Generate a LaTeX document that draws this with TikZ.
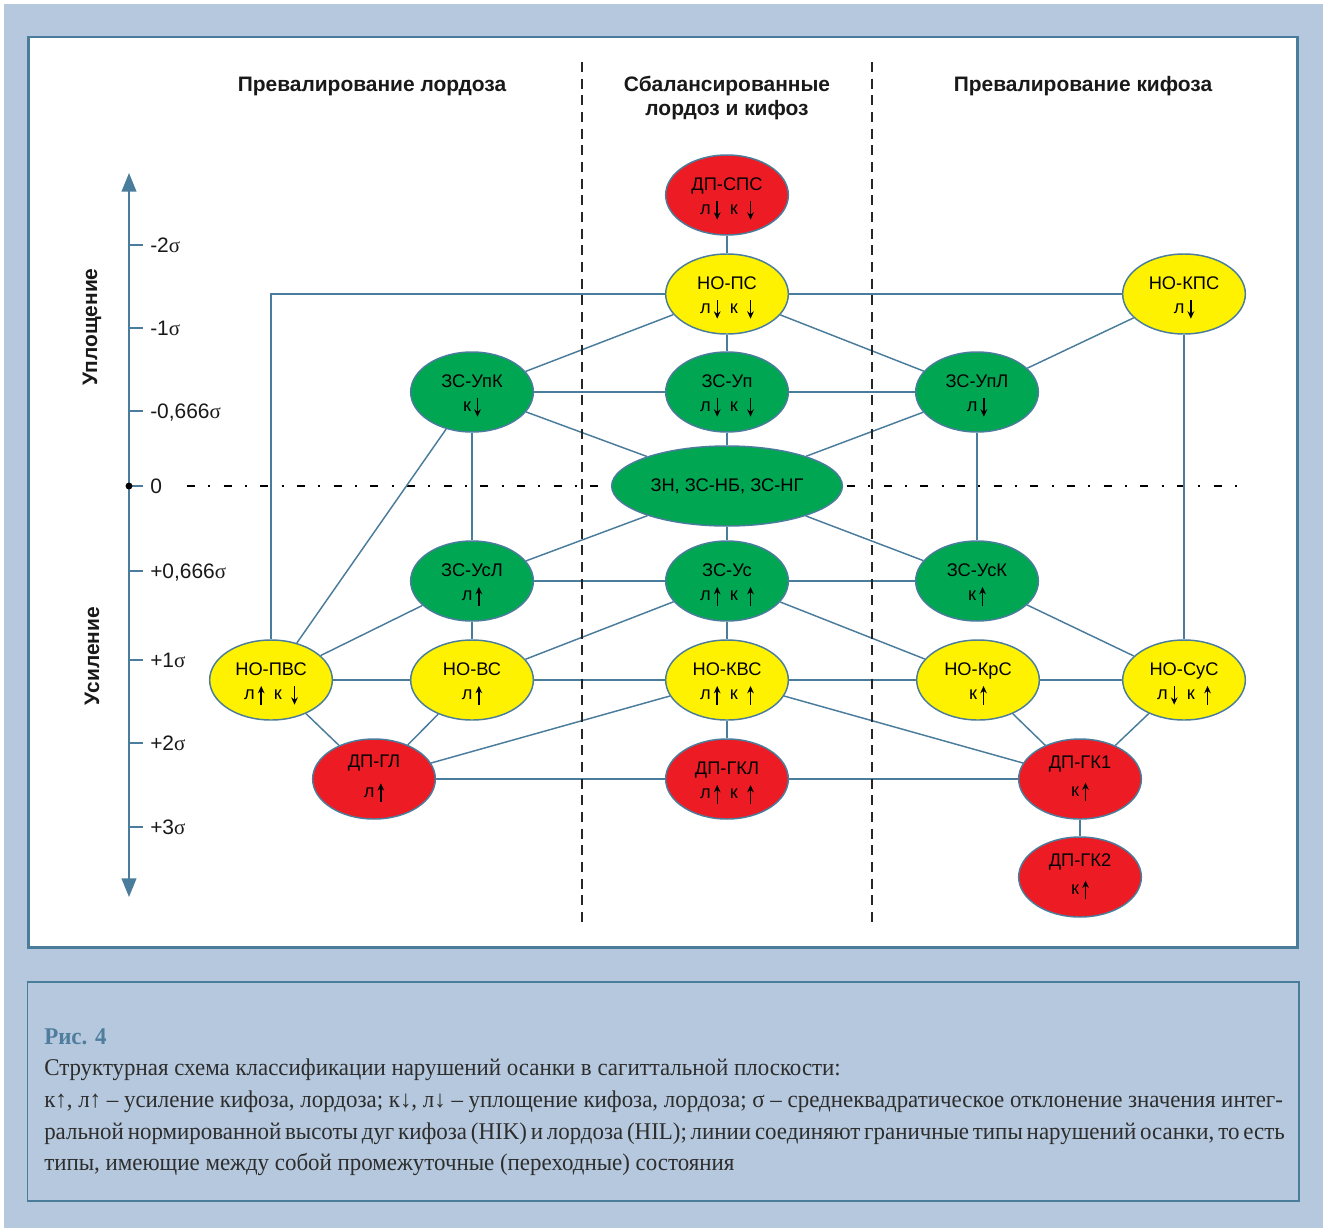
\documentclass[tikz,border=0pt]{standalone}
\usepackage{fontspec}
\setmainfont{Liberation Sans}
\newfontfamily\capfont[FakeStretch=0.955]{Liberation Serif}
\newfontfamily\sigfont{Liberation Serif}
\usetikzlibrary{arrows.meta,shapes.geometric}
\definecolor{bgblue}{RGB}{181,200,221}
\definecolor{steel}{RGB}{74,124,156}
\definecolor{nred}{RGB}{237,28,36}
\definecolor{nyel}{RGB}{255,242,0}
\definecolor{ngreen}{RGB}{0,166,81}
\definecolor{capblue}{RGB}{80,125,158}
\definecolor{captext}{RGB}{45,45,45}
\newcommand\upar{\tikz[baseline=0pt]\draw[draw=black,line width=1.05pt,-{Stealth[length=5.5pt,width=5pt]}](0pt,-3.5pt)--(0pt,10.5pt);}
\newcommand\dnar{\tikz[baseline=0pt]\draw[draw=black,line width=1.05pt,-{Stealth[length=5.5pt,width=5pt]}](0pt,10.5pt)--(0pt,-3.5pt);}
\newcommand\gp{\hspace{7pt}}
\newcommand\st{\rule{0pt}{16pt}}
\newcommand\sg{{\sigfont σ}}
\pgfdeclarelayer{bglayer}
\pgfdeclarelayer{edgelayer}
\pgfsetlayers{bglayer,edgelayer,main}
\tikzset{
  typ/.style={ellipse, draw=steel, line width=1.1pt, minimum width=92pt, minimum height=60pt,
    inner sep=0pt, align=center, font=\fontsize{13.7}{18}\selectfont, text=black},
  redn/.style={typ, fill=nred},
  yeln/.style={typ, fill=nyel},
  grnn/.style={typ, fill=ngreen},
  link/.style={draw=steel, line width=1.1pt},
  hdr/.style={align=center, font=\fontsize{15.7}{18}\selectfont\bfseries, text=black!90},
  ticklab/.style={anchor=base west, inner sep=0pt, font=\fontsize{15.7}{18}\selectfont, text=black!90},
  tickmark/.style={draw=steel, line width=1.1pt},
  axlab/.style={rotate=90, font=\fontsize{15.7}{18}\selectfont\bfseries, text=black!90},
  capline/.style={anchor=base west, inner sep=0pt, font=\capfont\fontsize{18}{24}\selectfont, text=captext}
}
\begin{document}
\begin{tikzpicture}[x=0.75pt,y=-0.75pt]
\useasboundingbox (0,0) rectangle (1323,1228);
\begin{pgfonlayer}{bglayer}
  \fill[white] (0,0) rectangle (1323,1228);
  \fill[bgblue] (4,4) rectangle (1323,1228);
  \draw[steel, line width=2.2pt, fill=white] (28.5,37) rectangle (1297.5,947.5);
  \draw[steel, line width=1pt, fill=bgblue] (27.5,982) rectangle (1299,1201);
\end{pgfonlayer}

% headers
\node[hdr] (h1) at (372,86) {Превалирование лордоза};
\node[hdr] (h2) at (727,98) {Сбалансированные\\лордоз и кифоз};
\node[hdr] (h3) at (1083,86) {Превалирование кифоза};

% axis
\coordinate (axtop) at (129,173);
\coordinate (axbot) at (129,897);
\draw[steel, line width=1.5pt, {Triangle[length=14pt,width=11pt]}-{Triangle[length=14pt,width=11pt]}] (axbot) -- (axtop);
\foreach \yy/\lab in {245/-2\sg, 328/-1\sg, 411/-0{,}666\sg, 486/0, 571/+0{,}666\sg, 660/+1\sg, 743/+2\sg, 827/+3\sg}{
  \draw[tickmark] (129,\yy) -- (143,\yy);
  \node[ticklab] at (150,\yy+7.5) {\lab};
}
\fill[black] (129,486) circle (2.6pt);
\node[axlab] (up) at (92,327) {Уплощение};
\node[axlab] (us) at (92,656) {Усиление};

% zero line
\begin{pgfonlayer}{edgelayer}
\draw[black, line width=0.9pt, dash pattern=on 6pt off 10pt on 1.5pt off 10pt] (187,486) -- (1243,486);
\end{pgfonlayer}

% nodes
\node[redn] (dpsps) at (727,195) {\st ДП-СПС\\л\,\dnar\gp к\gp\dnar};
\node[yeln] (nops) at (727,294) {\st НО-ПС\\л\,\dnar\gp к\gp\dnar};
\node[yeln] (nokps) at (1184,294) {\st НО-КПС\\л\,\dnar};
\node[grnn] (zsupk) at (472,392) {\st ЗС-УпК\\к\,\dnar};
\node[grnn] (zsup) at (727,392) {\st ЗС-Уп\\л\,\dnar\gp к\gp\dnar};
\node[grnn] (zsupl) at (977,392) {\st ЗС-УпЛ\\л\,\dnar};
\node[grnn, minimum width=173pt] (zn) at (727,486) {ЗН, ЗС-НБ, ЗС-НГ};
\node[grnn] (zsusl) at (472,581) {\st ЗС-УсЛ\\л\,\upar};
\node[grnn] (zsus) at (727,581) {\st ЗС-Ус\\л\,\upar\gp к\gp\upar};
\node[grnn] (zsusk) at (977,581) {\st ЗС-УсК\\к\,\upar};
\node[yeln] (nopvs) at (271,680) {\st НО-ПВС\\л\,\upar\gp к\gp\dnar};
\node[yeln] (novs) at (472,680) {\st НО-ВС\\л\,\upar};
\node[yeln] (nokvs) at (727,680) {\st НО-КВС\\л\,\upar\gp к\gp\upar};
\node[yeln] (nokrs) at (978,680) {\st НО-КрС\\к\,\upar};
\node[yeln] (nosus) at (1184,680) {\st НО-СуС\\л\,\dnar\gp к\gp\upar};
\node[redn] (dpgl) at (374,779) {ДП-ГЛ\\[4pt]л\,\upar};
\node[redn] (dpgkl) at (727,779) {\st ДП-ГКЛ\\л\,\upar\gp к\gp\upar};
\node[redn] (dpgk1) at (1080,779) {ДП-ГК1\\[3pt]к\,\upar};
\node[redn] (dpgk2) at (1080,877) {ДП-ГК2\\[3pt]к\,\upar};

% connectors
\begin{pgfonlayer}{edgelayer}
\draw[link] (dpsps) -- (nops);
\draw[link] (nops.west) -| (nopvs.north);
\draw[link] (nops) -- (nokps);
\draw[link] (nops) -- (zsupk);
\draw[link] (nops) -- (zsupl);
\draw[link] (nops) -- (zsup);
\draw[link] (nokps) -- (zsupl);
\draw[link] (nokps) -- (nosus);
\draw[link] (zsupk) -- (zsup);
\draw[link] (zsup) -- (zsupl);
\draw[link] (zsupk) -- (zn);
\draw[link] (zsup) -- (zn);
\draw[link] (zsupl) -- (zn);
\draw[link] (zsupk) -- (zsusl);
\draw[link] (zsupk) -- (nopvs);
\draw[link] (zsupl) -- (zsusk);
\draw[link] (zn) -- (zsusl);
\draw[link] (zn) -- (zsus);
\draw[link] (zn) -- (zsusk);
\draw[link] (zsusl) -- (zsus);
\draw[link] (zsus) -- (zsusk);
\draw[link] (zsusl) -- (nopvs);
\draw[link] (zsusl) -- (novs);
\draw[link] (zsus) -- (novs);
\draw[link] (zsus) -- (nokvs);
\draw[link] (zsus) -- (nokrs);
\draw[link] (zsusk) -- (nosus);
\draw[link] (nopvs) -- (novs);
\draw[link] (novs) -- (nokvs);
\draw[link] (nokvs) -- (nokrs);
\draw[link] (nokrs) -- (nosus);
\draw[link] (nopvs) -- (dpgl);
\draw[link] (novs) -- (dpgl);
\draw[link] (nokvs) -- (dpgl);
\draw[link] (nokvs) -- (dpgkl);
\draw[link] (nokvs) -- (dpgk1);
\draw[link] (dpgl) -- (dpgkl);
\draw[link] (dpgkl) -- (dpgk1);
\draw[link] (nokrs) -- (dpgk1);
\draw[link] (nosus) -- (dpgk1);
\draw[link] (dpgk1) -- (dpgk2);
\end{pgfonlayer}

% dashed separators
\draw[black!85, line width=1.1pt, dash pattern=on 7.5pt off 5pt] (582,62) -- (582,922);
\draw[black!85, line width=1.1pt, dash pattern=on 7.5pt off 5pt] (872,62) -- (872,922);

% caption
\node[capline, font=\capfont\fontsize{18}{24}\selectfont\bfseries, text=capblue] (cap0) at (44,1044) {Рис. 4};
\node[capline] (cap1) at (44,1075) {Структурная схема классификации нарушений осанки в сагиттальной плоскости:};
\node[capline] (cap2) at (44,1107) {\makebox[929pt][s]{к↑, л↑ – усиление кифоза, лордоза; к↓, л↓ – уплощение кифоза, лордоза; σ – среднеквадратическое отклонение значения интег-}};
\node[capline] (cap3) at (44,1139) {\makebox[929pt][s]{ральной нормированной высоты дуг кифоза (HIK) и лордоза (HIL); линии соединяют граничные типы нарушений осанки, то есть}};
\node[capline] (cap4) at (44,1170) {типы, имеющие между собой промежуточные (переходные) состояния};
\end{tikzpicture}
\end{document}
